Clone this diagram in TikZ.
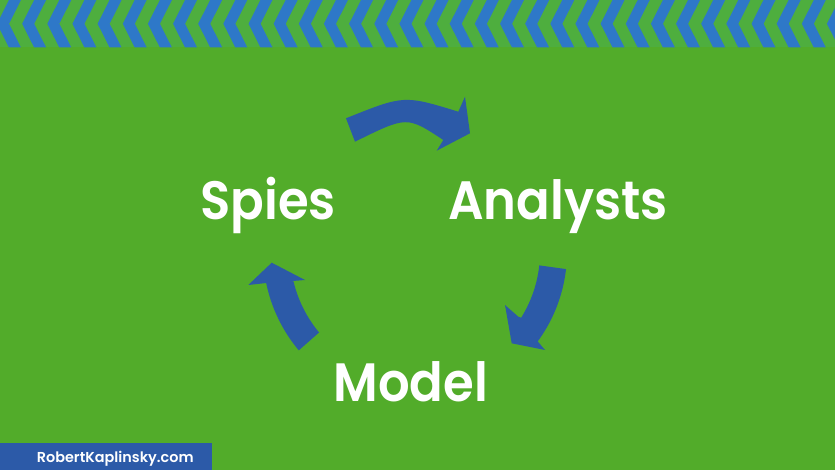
\documentclass[tikz,border=0pt]{standalone}
\usepackage{fontspec}
\setmainfont{Poppins}
\IfFontExistsTF{Poppins SemiBold}{%
  \newfontfamily\wordfont[FakeStretch=0.92]{Poppins SemiBold}%
  \newfontfamily\sitefont{Poppins SemiBold}%
}{%
  \newfontfamily\wordfont[FakeStretch=0.90]{Poppins}[UprightFont=*, BoldFont=*]%
  \newfontfamily\sitefont{Poppins}%
}
\definecolor{bggreen}{RGB}{82,172,42}
\definecolor{stripegreen}{RGB}{78,174,62}
\definecolor{stripeblue}{RGB}{46,120,200}
\definecolor{arrowblue}{RGB}{44,90,168}
\tikzset{
  bigword/.style={text=white, inner sep=0pt, anchor=base, font=\fontsize{54}{60}\selectfont\wordfont},
  cyclearrow/.style={fill=arrowblue, draw=none},
}
\begin{document}
\begin{tikzpicture}[x=1pt,y=-1pt]
\useasboundingbox (0,0) rectangle (835,470);
\fill[bggreen] (0,0) rectangle (835,470);
% chevron stripe
\begin{scope}
  \clip (0,0) rectangle (835,47.5);
  \fill[stripegreen] (0,0) rectangle (835,47.5);
  \foreach \k in {-1,...,34} {
    \pgfmathsetmacro\xo{9+25.15*\k}
    \fill[stripeblue] (\xo,0) -- ++(12,0) -- ++(-12,23.75) -- ++(12,23.75) -- ++(-12,0) -- ++(-12,-23.75) -- cycle;
  }
\end{scope}
% words
\node[bigword] (spies) at (268.3,220) {Spies};
\node[bigword] (analysts) at (557.9,220) {Analysts};
\node[bigword] (model) at (410.8,401.7) {Model};
% cycle centre
\coordinate (cc) at (416,252);
% top arrow (Spies -> Analysts)
\fill[cyclearrow] (346,118.3) .. controls (404,95) .. (458.3,111.7) -- (465,96.7) -- (470,133.3) -- (436.7,150.7) -- (443.3,140) .. controls (407,116) .. (355,141.7) -- cycle;
% right arrow (Analysts -> Model)
\fill[cyclearrow] plot[domain=6.5:36.3, samples=25, variable=\t] ({416+151*cos(\t)},{252+151*sin(\t)})
  -- (545,350) -- (511.7,343.3) -- (505,305) -- (518.3,316.7)
  -- plot[domain=32:6.2, samples=25, variable=\t] ({416+124*cos(\t)},{252+124*sin(\t)}) -- cycle;
% left arrow (Model -> Spies)
\fill[cyclearrow] plot[domain=140:168.3, samples=25, variable=\t] ({416+153*cos(\t)},{252+153*sin(\t)})
  -- (248.3,285) -- (271.7,262.7) -- (305,280) -- (290,281.2)
  -- plot[domain=166.5:140.3, samples=25, variable=\t] ({416+126*cos(\t)},{252+126*sin(\t)}) -- cycle;
% footer bar
\fill[arrowblue] (0,443.3) rectangle (211.7,470);
\node[text=white, inner sep=0pt, anchor=base west, font=\fontsize{14.4}{16}\selectfont\sitefont] (site) at (36.7,462.7) {RobertKaplinsky.com};
\end{tikzpicture}
\end{document}
